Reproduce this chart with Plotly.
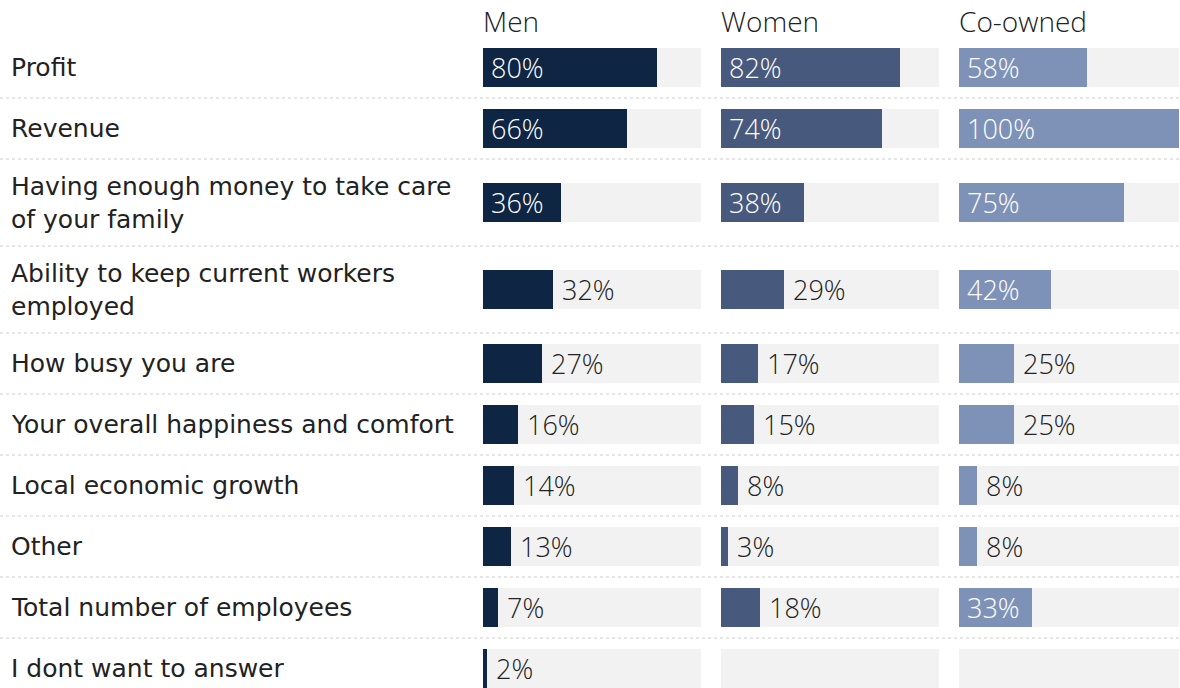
import textwrap
import plotly.graph_objects as go

# Survey answers: share of owners naming each measure, by ownership group
categories = [
    "Profit",
    "Revenue",
    "Having enough money to take care of your family",
    "Ability to keep current workers employed",
    "How busy you are",
    "Your overall happiness and comfort",
    "Local economic growth",
    "Other",
    "Total number of employees",
    "I dont want to answer",
]
groups = ["Men", "Women", "Co-owned"]
men = [80, 66, 36, 32, 27, 16, 14, 13, 7, 2]
women = [82, 74, 38, 29, 17, 15, 8, 3, 18, None]
co_owned = [58, 100, 75, 42, 25, 25, 8, 8, 33, None]
series = [men, women, co_owned]

colors = ["#0e2644", "#47597c", "#7e92b8"]
track_color = "#f2f2f2"
W, H = 1180, 688
col_px = [(483, 701), (721, 939), (959, 1179)]
header_h = 37
line_h = {1: 61, 2: 87}
bar_h = 39
label_font = "'DejaVu Sans', Verdana, sans-serif"
value_font = "'Open Sans', Lato, sans-serif"

wrapped = [textwrap.wrap(c, 34) for c in categories]
centers, bounds = [], []
top = header_h
for lines in wrapped:
    h = line_h[len(lines)]
    centers.append(top + h / 2)
    top += h
    bounds.append(top)

fig = go.Figure()
annotations = []
shapes = []

for i, (name, vals, col) in enumerate(zip(groups, series, colors)):
    xa = "x" if i == 0 else f"x{i + 1}"
    # background track for every row
    fig.add_trace(go.Bar(
        x=[100] * len(categories), y=centers, orientation="h", width=bar_h,
        marker=dict(color=track_color, line=dict(width=0)),
        xaxis=xa, yaxis="y", hoverinfo="skip", showlegend=False,
    ))
    fig.add_trace(go.Bar(
        x=vals, y=centers, orientation="h", width=bar_h, name=name,
        marker=dict(color=col, line=dict(width=0)),
        xaxis=xa, yaxis="y", showlegend=False,
        hovertemplate="%{x}%<extra>" + name + "</extra>",
    ))
    for v, yc in zip(vals, centers):
        if v is None:
            continue
        inside = v >= 33
        annotations.append(dict(
            x=0 if inside else v, y=yc, xref=xa, yref="y",
            text=f"{v}%", showarrow=False, xanchor="left", yanchor="middle",
            xshift=6 if inside else 7,
            font=dict(family=value_font, size=27, weight=300,
                      color="#ffffff" if inside else "#222222"),
        ))
    annotations.append(dict(
        x=col_px[i][0] / W, y=21, xref="paper", yref="y", text=name,
        showarrow=False, xanchor="left", yanchor="middle", xshift=-2,
        font=dict(family=value_font, size=28, weight=300, color="#222222"),
    ))

for lines, yc in zip(wrapped, centers):
    annotations.append(dict(
        x=9 / W, y=yc, xref="paper", yref="y", text="<br>".join(lines),
        showarrow=False, xanchor="left", yanchor="middle", align="left",
        font=dict(family=label_font, size=25, color="#222222"),
    ))

for b in bounds[:-1]:
    shapes.append(dict(
        type="line", xref="paper", yref="y", x0=0, x1=1, y0=b, y1=b,
        line=dict(color="#cccccc", width=1, dash="dot"), layer="below",
    ))

layout_axes = {}
for i, (a, b) in enumerate(col_px):
    key = "xaxis" if i == 0 else f"xaxis{i + 1}"
    layout_axes[key] = dict(
        domain=[a / W, b / W], range=[0, 100], visible=False, fixedrange=True,
        anchor="y",
    )

fig.update_layout(
    width=W, height=H, margin=dict(l=0, r=0, t=0, b=0),
    paper_bgcolor="white", plot_bgcolor="white",
    barmode="overlay", bargap=0,
    yaxis=dict(range=[H, 0], visible=False, fixedrange=True),
    annotations=annotations, shapes=shapes,
    **layout_axes,
)

fig.write_html("out.html", config={"displayModeBar": False})
